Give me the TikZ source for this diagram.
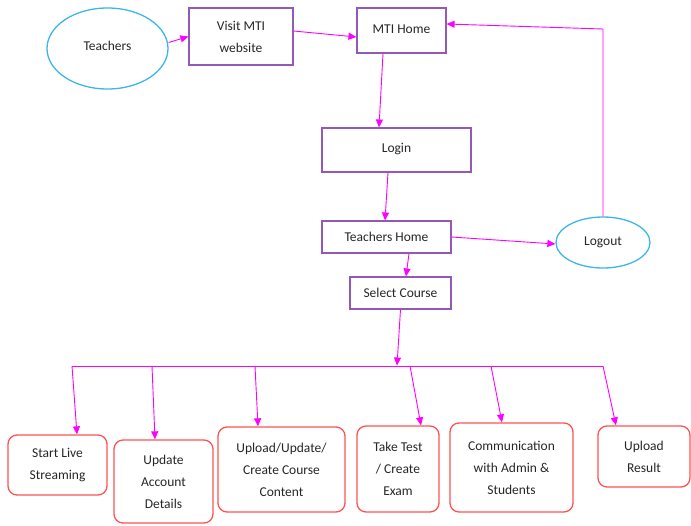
\documentclass[tikz,border=0pt]{standalone}
\usepackage{fontspec}
\setmainfont{Carlito}
\usetikzlibrary{shapes.geometric,arrows.meta}
\definecolor{boxpurple}{RGB}{145,90,185}
\definecolor{ellblue}{RGB}{60,182,232}
\definecolor{boxred}{RGB}{255,82,82}
\definecolor{linkmag}{RGB}{255,0,255}
\tikzset{
  txt/.style={font=\fontsize{13.5}{22}\selectfont, align=center, text=black!85, inner sep=0pt},
  ell/.style={txt, draw=ellblue, line width=1.3pt, ellipse},
  pbox/.style={txt, draw=boxpurple, line width=1.1pt, rectangle},
  rbox/.style={txt, draw=boxred, line width=1.3pt, rectangle, rounded corners=9pt},
  link/.style={draw=linkmag, line width=0.9pt, -{Triangle[length=8pt,width=7pt]}},
  plain/.style={draw=linkmag, line width=0.9pt}
}
\begin{document}
\begin{tikzpicture}[x=1pt,y=-1pt]
\useasboundingbox (0,0) rectangle (691,525);
% top row
\node[ell, minimum width=121pt, minimum height=81pt] (teachers) at (107.5,48.5) {\raisebox{5pt}{Teachers}};
\node[pbox, minimum width=104pt, minimum height=57pt] (visit) at (241,36.5) {Visit MTI\\website};
\node[pbox, minimum width=89pt, minimum height=45pt] (mti) at (401.5,30.5) {\raisebox{3pt}{MTI Home}};
\node[pbox, minimum width=149pt, minimum height=44pt] (login) at (396.5,150) {\raisebox{4pt}{Login}};
\node[pbox, minimum width=129pt, minimum height=32pt] (th) at (386.5,237) {Teachers Home};
\node[ell, minimum width=94pt, minimum height=51pt] (logout) at (603,242.5) {Logout};
\node[pbox, minimum width=101pt, minimum height=32pt] (sel) at (400.5,293) {Select Course};
% bottom boxes
\node[rbox, minimum width=99pt, minimum height=60pt] (s1) at (57.5,465) {Start Live\\Streaming};
\node[rbox, minimum width=99pt, minimum height=83pt] (s2) at (163.5,481.5) {Update\\Account\\Details};
\node[rbox, minimum width=127pt, minimum height=85pt] (s3) at (281.5,469.5) {Upload/Update/\\Create Course\\Content};
\node[rbox, minimum width=82pt, minimum height=86pt] (s4) at (398,469) {Take Test\\/ Create\\Exam};
\node[rbox, minimum width=123pt, minimum height=89pt] (s5) at (511.5,467.5) {Communication\\with Admin \&\\Students};
\node[rbox, minimum width=92pt, minimum height=61pt] (s6) at (644,456.5) {Upload\\Result};
% coordinates
\coordinate (lgcorner) at (603,29);
\coordinate (busin) at (397,365.5);
\coordinate (b1) at (72,366);
\coordinate (b2) at (152,366);
\coordinate (b3) at (255,366);
\coordinate (b4) at (410,366);
\coordinate (b5) at (491,366);
\coordinate (b6) at (603,366);
% connectors
\draw[link] ([yshift=6pt]teachers.east) -- (visit.west);
\draw[link] ([yshift=5.5pt]visit.east) -- ([yshift=-6.5pt]mti.west);
\draw[link] ([xshift=-18.5pt]mti.south) -- ([xshift=-17.5pt]login.north);
\draw[link] ([xshift=-8.5pt]login.south) -- ([xshift=-1.5pt]th.north);
\draw[link] (th.east) -- ([yshift=-1.5pt]logout.west);
\draw[link] (logout.north) -- (lgcorner) -- ([yshift=6.5pt]mti.east);
\draw[link] ([xshift=22.5pt]th.south) -- ([xshift=5.5pt]sel.north);
\draw[link] (sel.south) -- (busin);
\draw[plain] (b1) -- (b6);
\draw[link] (b1) -- ([xshift=19.5pt]s1.north);
\draw[link] (b2) -- ([xshift=-8.5pt]s2.north);
\draw[link] (b3) -- ([xshift=-23.5pt]s3.north);
\draw[link] (b4) -- ([xshift=23pt]s4.north);
\draw[link] (b5) -- ([xshift=-9.5pt]s5.north);
\draw[link] (b6) -- ([xshift=-28pt]s6.north);
\end{tikzpicture}
\end{document}
